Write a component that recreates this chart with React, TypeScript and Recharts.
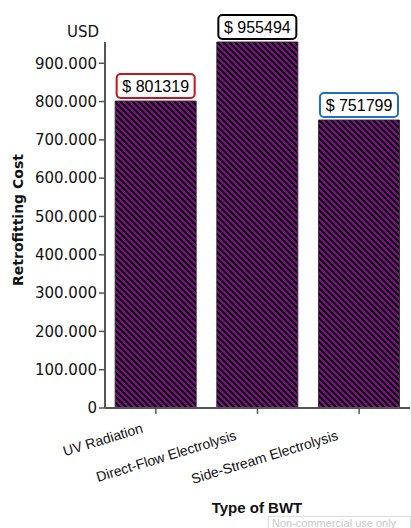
import { Bar, BarChart, Label, LabelList, XAxis, YAxis } from "recharts";

const categories = ["UV Radiation", "Direct-Flow Electrolysis", "Side-Stream Electrolysis"];
const costs = [801319, 955494, 751799];
const boxColors = ["#c4141c", "#000000", "#1f6fc6"];
const yTicks = [0, 100000, 200000, 300000, 400000, 500000, 600000, 700000, 800000, 900000];

const data = categories.map((name, i) => ({ name, cost: costs[i] }));

const fmt = (v: number) => String(v).replace(/\B(?=(\d{3})+(?!\d))/g, ".");

// staircase hatch rows for the bar fill (6px tile)
const hatchRows = [0, 1, 2, 3, 4, 5];

function CategoryTick(props: any) {
  const { x, y, payload } = props;
  const n = String(payload.value).length;
  const ax = x - (4 + 0.68 * n);
  const ay = y + 9 + 0.6 * n;
  return (
    <text
      x={ax}
      y={ay}
      textAnchor="end"
      transform={`rotate(-17, ${ax}, ${ay})`}
      fontFamily="Liberation Sans, Arial, sans-serif"
      fontSize={14}
      fill="#111"
    >
      {payload.value}
    </text>
  );
}

function ValueBox(props: any) {
  const { x, y, width, value, index } = props;
  const cx = x + width / 2;
  return (
    <g>
      <rect
        x={cx - 39}
        y={y - 27}
        width={78}
        height={24}
        rx={4}
        fill="#fff"
        stroke={boxColors[index]}
        strokeWidth={2}
      />
      <text
        x={cx}
        y={y - 9}
        textAnchor="middle"
        fontFamily="Liberation Sans, Arial, sans-serif"
        fontSize={16}
        fill="#000"
      >
        {"$ " + value}
      </text>
    </g>
  );
}

export default function App() {
  return (
    <div style={{ position: "absolute", left: 0, top: 0, width: 411, height: 528, overflow: "hidden" }}>
      <svg width={0} height={0} style={{ position: "absolute" }}>
        <defs>
          <pattern id="hatch" patternUnits="userSpaceOnUse" width={6} height={6}>
            <rect width={6} height={6} fill="#84088e" />
            {hatchRows.map((r) => (
              <g key={r}>
                <rect x={r} y={r} width={3} height={1} fill="#000" />
                <rect x={r - 6} y={r} width={3} height={1} fill="#000" />
              </g>
            ))}
          </pattern>
        </defs>
      </svg>
      <BarChart
        width={411}
        height={528}
        data={data}
        margin={{ top: 42, right: 1, bottom: 0, left: 0 }}
        barCategoryGap="10%"
      >
        <XAxis
          dataKey="name"
          height={120}
          interval={0}
          tick={<CategoryTick />}
          tickSize={6}
          axisLine={{ stroke: "#555", strokeWidth: 2 }}
          tickLine={{ stroke: "#555", strokeWidth: 1.5 }}
        >
          <Label
            content={() => (
              <text
                x={257}
                y={513}
                textAnchor="middle"
                fontFamily="Liberation Sans, Arial, sans-serif"
                fontWeight="bold"
                fontSize={15}
                fill="#111"
              >
                Type of BWT
              </text>
            )}
          />
        </XAxis>
        <YAxis
          width={105}
          domain={[0, "dataMax"]}
          ticks={yTicks}
          tickFormatter={fmt}
          tickSize={6}
          tick={{ fontFamily: "DejaVu Sans, sans-serif", fontSize: 15, fill: "#111" }}
          axisLine={{ stroke: "#555", strokeWidth: 2 }}
          tickLine={{ stroke: "#555", strokeWidth: 1.5 }}
        >
          <Label
            content={() => (
              <text
                x={23}
                y={220}
                textAnchor="middle"
                transform="rotate(-90, 23, 220)"
                fontFamily="DejaVu Sans, sans-serif"
                fontWeight="bold"
                fontSize={14}
                fill="#111"
              >
                Retrofitting Cost
              </text>
            )}
          />
          <Label
            content={() => (
              <text
                x={99}
                y={37}
                textAnchor="end"
                fontFamily="DejaVu Sans, sans-serif"
                fontSize={15}
                fill="#111"
              >
                USD
              </text>
            )}
          />
        </YAxis>
        <Bar dataKey="cost" fill="url(#hatch)" stroke="#333" strokeWidth={1} isAnimationActive={false}>
          <LabelList dataKey="cost" content={<ValueBox />} />
        </Bar>
      </BarChart>
      <div
        style={{
          position: "absolute",
          left: 268,
          top: 516,
          width: 138,
          height: 11,
          border: "1px solid #ddd",
          borderBottom: "none",
          color: "#c8c8c8",
          fontFamily: "Liberation Sans, Arial, sans-serif",
          fontSize: 11,
          lineHeight: "12px",
          paddingLeft: 3,
          whiteSpace: "nowrap",
        }}
      >
        Non-commercial use only
      </div>
    </div>
  );
}
